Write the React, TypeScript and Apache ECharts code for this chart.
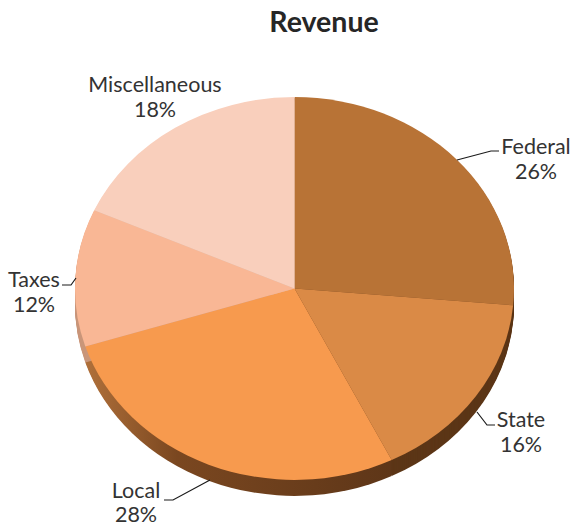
import React, { useEffect, useRef } from "react";
import * as echarts from "echarts";

const categories = ["Federal", "State", "Local", "Taxes", "Miscellaneous"];
// Percentages printed on the labels.
const shares = [26, 16, 28, 12, 18];
// Share of the ellipse each slice visibly covers in the picture (its 3D view skews them a little).
const visibleShares = [26.4, 16.3, 27.4, 11.6, 18.3];
const topColors = ["#b87336", "#da8a46", "#f79a4e", "#f9b795", "#f9cfbc"];

const CX = 294.5;
const CY = 288.5;
const RX = 219.5;
const RY = 191.5;
const DEPTH = 16;

const FONT = "Lato, Carlito, 'Noto Sans', sans-serif";

const labelPlaces = [
  { x: 536, y: 145.5, gap: 25.5, line: [[457, 160], [491, 151], [499, 151]] },
  { x: 521, y: 418.5, gap: 25.5, line: [[477, 412], [487, 425], [495, 425]] },
  { x: 136, y: 490, gap: 24, line: [[210, 480], [173, 500], [164, 500]] },
  { x: 34, y: 278.5, gap: 25.5, line: [[76, 278], [71, 285], [62, 285]] },
  { x: 155, y: 83.5, gap: 25.5, line: null as number[][] | null },
];

const wallFill = (i: number): any => {
  if (i === 2) {
    return {
      type: "linear",
      x: 0,
      y: 0,
      x2: 1,
      y2: 0,
      colorStops: [
        { offset: 0, color: "#b0703a" },
        { offset: 0.3, color: "#7a4720" },
        { offset: 1, color: "#5e3618" },
      ],
    };
  }
  if (i === 3) return "#c9967a";
  if (i === 4) return "#d8b3a0";
  return "#5c3617";
};

const total = visibleShares.reduce((a, b) => a + b, 0);
const angleRange = (i: number) => {
  const before = visibleShares.slice(0, i).reduce((a, b) => a + b, 0);
  const start = -Math.PI / 2 + (before / total) * Math.PI * 2;
  const end = start + (visibleShares[i] / total) * Math.PI * 2;
  return { start, end };
};

const sector = (i: number, dy: number, fill: any) => {
  const { start, end } = angleRange(i);
  return {
    type: "group",
    x: CX,
    y: CY + dy,
    scaleY: RY / RX,
    children: [
      {
        type: "sector",
        shape: { cx: 0, cy: 0, r0: 0, r: RX, startAngle: start, endAngle: end, clockwise: true },
        style: { fill, stroke: null },
      },
    ],
  };
};

const renderWall = (params: any) => {
  const i = params.dataIndex;
  const children: any[] = [];
  for (let d = DEPTH; d >= 1; d -= 1) children.push(sector(i, d, wallFill(i)));
  return { type: "group", children };
};

const renderTop = (params: any) => sector(params.dataIndex, 0, topColors[params.dataIndex]);

const labelLine = (text: string, x: number, y: number) => ({
  type: "text",
  x,
  y,
  style: {
    text,
    fill: "#333333",
    font: `21.5px ${FONT}`,
    lineHeight: 16,
    align: "center",
    verticalAlign: "middle",
  },
});

const renderLabel = (params: any) => {
  const i = params.dataIndex;
  const place = labelPlaces[i];
  const children: any[] = [
    labelLine(categories[i], place.x, place.y),
    labelLine(`${shares[i]}%`, place.x, place.y + place.gap),
  ];
  if (place.line) {
    children.push({
      type: "polyline",
      shape: { points: place.line },
      style: { stroke: "#1a1a1a", lineWidth: 1.2, fill: null },
    });
  }
  return { type: "group", children };
};

export default function App() {
  const ref = useRef<HTMLDivElement>(null);
  useEffect(() => {
    document.body.style.margin = "0";
    const chart = echarts.init(ref.current!, undefined, { renderer: "svg" });
    const rows = shares.map((v, i) => ({ name: categories[i], value: v }));
    chart.setOption({
      animation: false,
      backgroundColor: "#ffffff",
      title: {
        text: "Revenue",
        left: 319,
        top: 1,
        textAlign: "center",
        textStyle: { fontFamily: FONT, fontSize: 28.5, fontWeight: "bold", color: "#262626" },
      },
      series: [
        { type: "custom", coordinateSystem: "none", renderItem: renderWall, data: rows, silent: true, z: 1 },
        { type: "custom", coordinateSystem: "none", renderItem: renderTop, data: rows, silent: true, z: 2 },
        { type: "custom", coordinateSystem: "none", renderItem: renderLabel, data: rows, silent: true, z: 3 },
      ],
    });
    return () => chart.dispose();
  }, []);
  return <div ref={ref} style={{ width: 572, height: 527 }} />;
}
